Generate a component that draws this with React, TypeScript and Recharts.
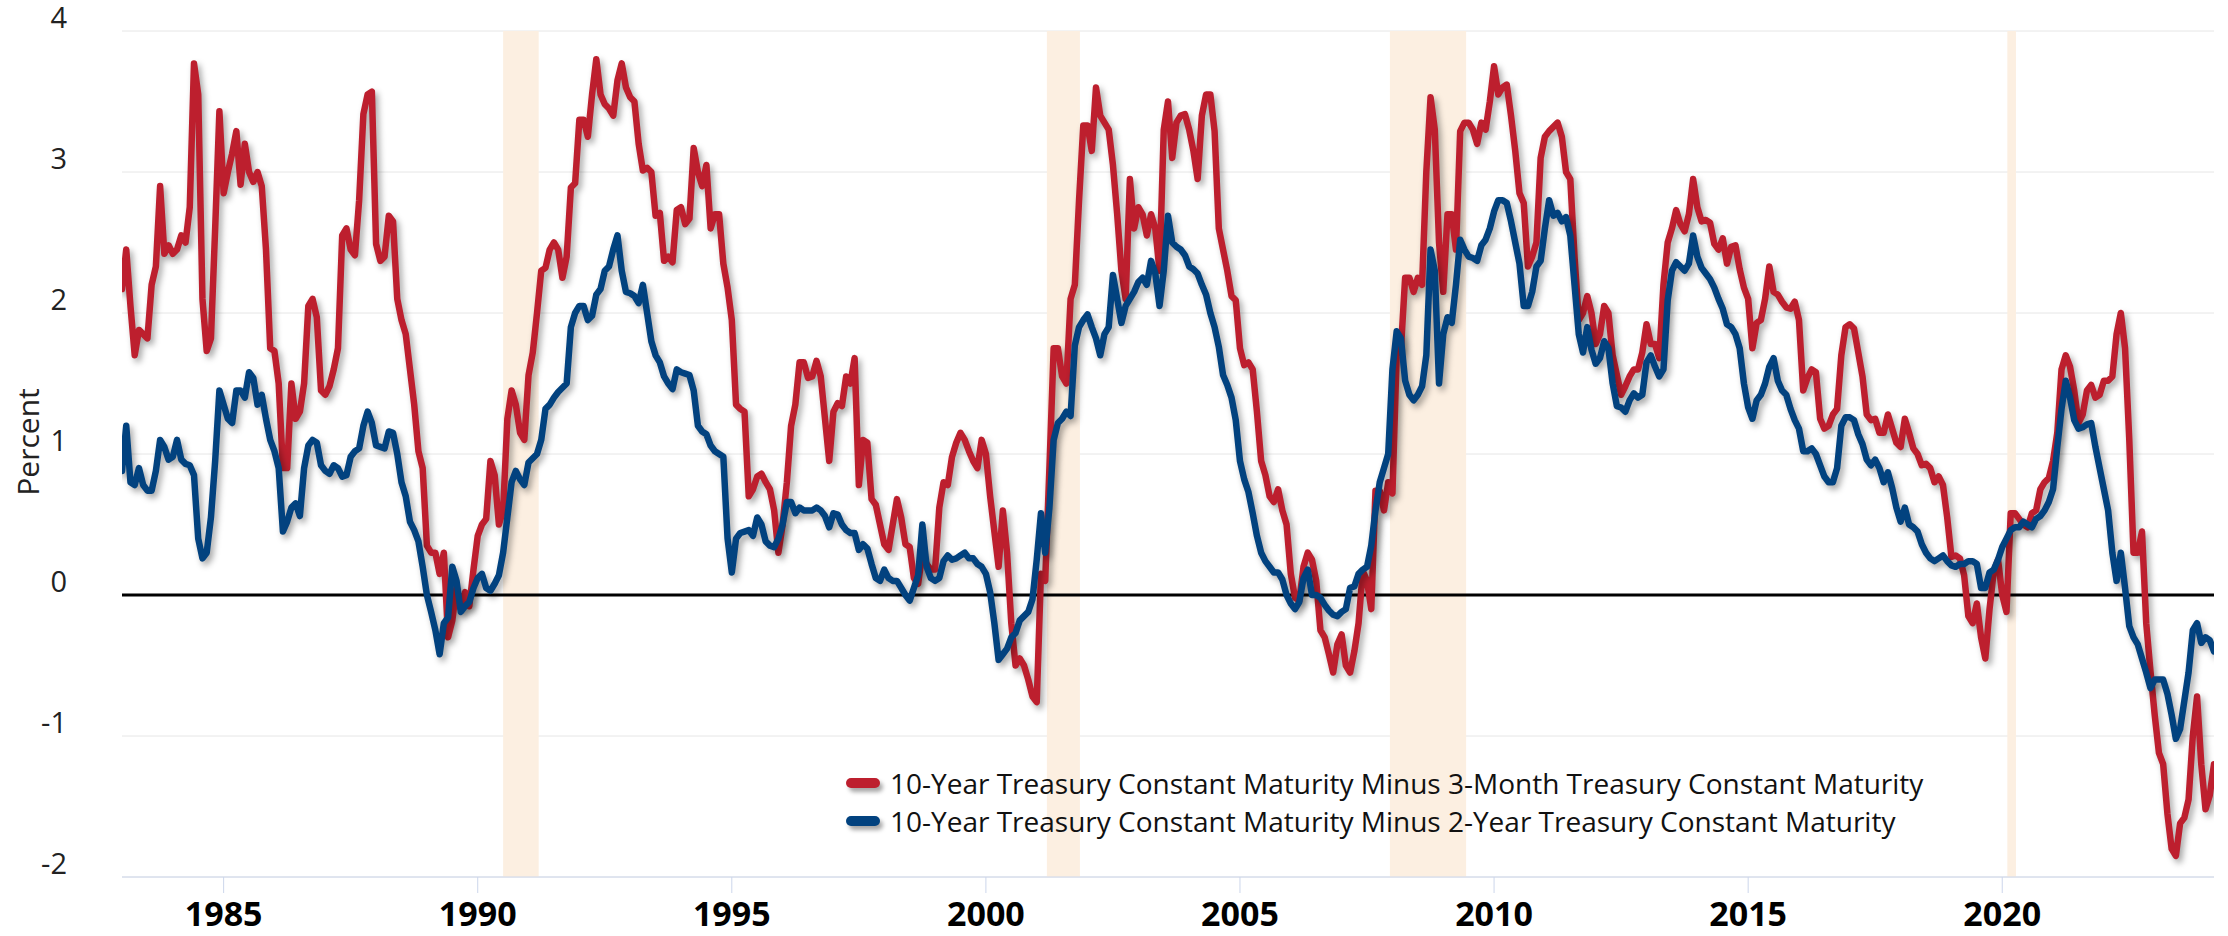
import { LineChart, Line, XAxis, YAxis, CartesianGrid, ReferenceArea, ReferenceLine, Legend } from 'recharts';

const FONT = '"Open Sans", "Noto Sans", sans-serif';

// monthly values, Jan 1983 .. Mar 2024
const START_YEAR = 1983;

const spread3m: number[] = [
  2.17, 2.45, 2.05, 1.7, 1.88, 1.85, 1.82, 2.2, 2.33, 2.9, 2.42, 2.48,
  2.42, 2.45, 2.55, 2.5, 2.75, 3.77, 3.55, 2.1, 1.73, 1.82, 2.6, 3.43,
  2.85, 3.0, 3.13, 3.29, 2.91, 3.2, 3.0, 2.93, 3.0, 2.9, 2.45, 1.75,
  1.73, 1.5, 0.9, 0.9, 1.5, 1.25, 1.3, 1.5, 2.05, 2.1, 1.97, 1.45,
  1.42, 1.48, 1.6, 1.75, 2.55, 2.6, 2.45, 2.41, 2.8, 3.41, 3.55, 3.57,
  2.49, 2.37, 2.4, 2.69, 2.65, 2.1, 1.95, 1.85, 1.6, 1.35, 1.02, 0.9,
  0.35, 0.3, 0.3, 0.15, 0.3, -0.3, -0.18, 0.06, -0.1, 0.02, -0.08, 0.18,
  0.42, 0.5, 0.54, 0.95, 0.85, 0.5, 0.6, 1.25, 1.45, 1.35, 1.15, 1.1,
  1.56, 1.72, 2.0, 2.3, 2.32, 2.45, 2.5, 2.45, 2.25, 2.4, 2.89, 2.92,
  3.37, 3.37, 3.25, 3.55, 3.8, 3.55, 3.48, 3.45, 3.4, 3.65, 3.77, 3.6,
  3.53, 3.5, 3.2, 3.01, 3.03, 3.0, 2.69, 2.71, 2.37, 2.4, 2.36, 2.73,
  2.75, 2.63, 2.67, 3.17, 3.0, 2.9, 3.05, 2.6, 2.7, 2.7, 2.35, 2.18,
  1.95, 1.35, 1.32, 1.3, 0.7, 0.75, 0.84, 0.86, 0.8, 0.75, 0.6, 0.3,
  0.5, 0.8, 1.2, 1.35, 1.65, 1.65, 1.54, 1.55, 1.66, 1.55, 1.25, 0.95,
  1.3, 1.36, 1.34, 1.55, 1.5, 1.68, 0.78, 1.1, 1.08, 0.68, 0.64, 0.5,
  0.36, 0.32, 0.5, 0.68, 0.55, 0.36, 0.34, 0.12, 0.08, 0.3, 0.22, 0.18,
  0.18, 0.62, 0.8, 0.78, 0.98, 1.08, 1.15, 1.1, 1.02, 0.95, 0.9, 1.1,
  1.0, 0.7, 0.45, 0.2, 0.6, 0.3, -0.2, -0.5, -0.45, -0.5, -0.6, -0.72,
  -0.76, 0.15, 0.1, 0.9, 1.75, 1.75, 1.55, 1.5, 2.1, 2.2, 2.8, 3.33,
  3.33, 3.15, 3.6, 3.4, 3.35, 3.3, 3.05, 2.7, 2.3, 2.1, 2.95, 2.6,
  2.75, 2.7, 2.55, 2.7, 2.6, 2.3, 3.3, 3.5, 3.1, 3.35, 3.4, 3.41,
  3.3, 3.15, 2.95, 3.4, 3.55, 3.55, 3.29, 2.6, 2.45, 2.3, 2.12, 2.09,
  1.75, 1.63, 1.65, 1.6, 1.3, 0.95, 0.85, 0.7, 0.66, 0.75, 0.6, 0.5,
  0.15, -0.02, -0.04, 0.2, 0.3, 0.25, 0.1, -0.25, -0.3, -0.42, -0.55, -0.35,
  -0.28, -0.5, -0.55, -0.4, -0.2, 0.17, 0.1, -0.1, 0.74, 0.74, 0.6, 0.8,
  0.72, 1.7, 1.74, 2.25, 2.25, 2.15, 2.25, 2.2, 3.0, 3.53, 3.3, 2.5,
  2.15, 2.7, 2.7, 2.45, 3.29, 3.35, 3.35, 3.3, 3.2, 3.35, 3.3, 3.5,
  3.75, 3.55, 3.6, 3.62, 3.4, 3.15, 2.85, 2.78, 2.33, 2.4, 2.5, 3.1,
  3.25, 3.29, 3.32, 3.35, 3.25, 3.0, 2.95, 2.4, 1.95, 2.0, 2.12, 2.0,
  1.78, 1.85, 2.05, 2.0, 1.7, 1.56, 1.42, 1.48, 1.55, 1.6, 1.6, 1.72,
  1.92, 1.78, 1.78, 1.68, 2.2, 2.5, 2.6, 2.73, 2.63, 2.58, 2.7, 2.95,
  2.75, 2.65, 2.66, 2.64, 2.49, 2.45, 2.53, 2.35, 2.47, 2.48, 2.31, 2.18,
  2.1, 1.75, 1.93, 1.95, 2.1, 2.33, 2.15, 2.13, 2.08, 2.04, 2.03, 2.08,
  1.95, 1.45, 1.54, 1.6, 1.58, 1.25, 1.18, 1.2, 1.28, 1.32, 1.7, 1.9,
  1.92, 1.89, 1.72, 1.55, 1.28, 1.24, 1.25, 1.15, 1.15, 1.28, 1.18, 1.08,
  1.05, 1.25, 1.15, 1.04, 1.0, 0.92, 0.93, 0.9, 0.8, 0.84, 0.78, 0.55,
  0.27, 0.28, 0.26, 0.14, -0.15, -0.2, -0.06, -0.3, -0.45, -0.1, 0.17, 0.25,
  0.0, -0.12, 0.58, 0.58, 0.54, 0.5, 0.48, 0.58, 0.6, 0.75, 0.8, 0.83,
  0.95, 1.15, 1.6, 1.7, 1.62, 1.45, 1.22, 1.28, 1.45, 1.49, 1.4, 1.42,
  1.52, 1.52, 1.55, 1.85, 2.0, 1.75, 1.1, 0.3, 0.3, 0.45, -0.2, -0.54,
  -0.85, -1.12, -1.2, -1.55, -1.8, -1.85, -1.62, -1.58, -1.45, -1.0, -0.72, -1.2,
  -1.52, -1.42, -1.2,
];

const spread2y: number[] = [
  0.88, 1.2, 0.8, 0.78, 0.9, 0.78, 0.74, 0.74, 0.88, 1.1, 1.05, 0.96,
  0.98, 1.1, 0.96, 0.93, 0.92, 0.85, 0.4, 0.26, 0.3, 0.55, 0.95, 1.45,
  1.35, 1.25, 1.22, 1.45, 1.45, 1.4, 1.58, 1.54, 1.35, 1.42, 1.25, 1.1,
  1.02, 0.9, 0.45, 0.52, 0.62, 0.65, 0.56, 0.9, 1.06, 1.1, 1.08, 0.92,
  0.88, 0.86, 0.92, 0.9, 0.84, 0.85, 0.98, 1.02, 1.04, 1.2, 1.3, 1.22,
  1.06, 1.05, 1.04, 1.16, 1.15, 1.0, 0.8, 0.7, 0.52, 0.46, 0.38, 0.2,
  0.0, -0.12, -0.25, -0.42, -0.2, -0.16, 0.2, 0.1, -0.12, -0.08, -0.05, 0.05,
  0.12, 0.15, 0.05, 0.03, 0.08, 0.14, 0.3, 0.55, 0.8, 0.88, 0.82, 0.78,
  0.94, 0.97, 1.0, 1.1, 1.32, 1.35, 1.4, 1.44, 1.47, 1.5, 1.9, 2.0,
  2.05, 2.05, 1.95, 1.98, 2.13, 2.17, 2.3, 2.33, 2.45, 2.55, 2.3, 2.15,
  2.14, 2.12, 2.07, 2.2, 2.0, 1.8, 1.7, 1.65, 1.55, 1.5, 1.46, 1.6,
  1.58, 1.57, 1.56, 1.45, 1.2, 1.16, 1.14, 1.06, 1.02, 1.0, 0.98, 0.4,
  0.16, 0.4, 0.44, 0.45, 0.46, 0.42, 0.55, 0.5, 0.38, 0.35, 0.34, 0.4,
  0.5, 0.66, 0.66, 0.58, 0.62, 0.6, 0.6, 0.6, 0.62, 0.6, 0.56, 0.48,
  0.58, 0.57, 0.5, 0.46, 0.44, 0.44, 0.32, 0.36, 0.33, 0.22, 0.12, 0.1,
  0.18, 0.12, 0.1, 0.1, 0.05, 0.0, -0.04, 0.05, 0.14, 0.5, 0.2, 0.12,
  0.1, 0.12, 0.24, 0.28, 0.25, 0.26, 0.28, 0.3, 0.26, 0.26, 0.22, 0.2,
  0.15, 0.02, -0.2, -0.46, -0.42, -0.38, -0.3, -0.27, -0.18, -0.15, -0.12, -0.03,
  0.25, 0.58, 0.3, 0.62, 1.1, 1.22, 1.25, 1.3, 1.27, 1.77, 1.9, 1.95,
  1.99, 1.9, 1.82, 1.7, 1.85, 1.9, 2.27, 2.1, 1.93, 2.05, 2.1, 2.15,
  2.22, 2.25, 2.2, 2.37, 2.28, 2.05, 2.3, 2.69, 2.5, 2.47, 2.45, 2.41,
  2.33, 2.31, 2.28, 2.2, 2.13, 2.0, 1.9, 1.76, 1.56, 1.49, 1.4, 1.24,
  0.95, 0.82, 0.73, 0.58, 0.42, 0.3, 0.24, 0.2, 0.16, 0.16, 0.11, 0.0,
  -0.06, -0.1, -0.05, 0.12, 0.18, 0.0, 0.0, -0.02, -0.07, -0.11, -0.14, -0.15,
  -0.12, -0.1, 0.05, 0.06, 0.15, 0.18, 0.2, 0.35, 0.6, 0.8, 0.9, 1.0,
  1.6, 1.87, 1.82, 1.52, 1.42, 1.38, 1.42, 1.48, 1.7, 2.45, 2.3, 1.5,
  1.85, 1.97, 1.93, 2.2, 2.52, 2.45, 2.4, 2.39, 2.37, 2.48, 2.52, 2.6,
  2.72, 2.8, 2.8, 2.78, 2.65, 2.5, 2.35, 2.05, 2.05, 2.15, 2.33, 2.37,
  2.6, 2.8, 2.69, 2.71, 2.65, 2.68, 2.55, 2.2, 1.85, 1.72, 1.9, 1.74,
  1.64, 1.68, 1.8, 1.75, 1.5, 1.34, 1.33, 1.3, 1.38, 1.43, 1.4, 1.42,
  1.65, 1.7, 1.62, 1.55, 1.6, 2.09, 2.3, 2.36, 2.33, 2.3, 2.35, 2.55,
  2.4, 2.32, 2.28, 2.24, 2.18, 2.1, 2.03, 1.92, 1.9, 1.85, 1.75, 1.5,
  1.33, 1.25, 1.38, 1.42, 1.5, 1.62, 1.68, 1.52, 1.45, 1.42, 1.32, 1.24,
  1.18, 1.02, 1.02, 1.04, 1.0, 0.92, 0.84, 0.8, 0.8, 0.9, 1.2, 1.26,
  1.26, 1.24, 1.14, 1.07, 0.96, 0.92, 0.96, 0.9, 0.8, 0.87, 0.76, 0.62,
  0.52, 0.62, 0.5, 0.48, 0.45, 0.36, 0.3, 0.26, 0.24, 0.26, 0.28, 0.24,
  0.21, 0.2, 0.22, 0.22, 0.24, 0.24, 0.22, 0.05, 0.05, 0.16, 0.18, 0.25,
  0.34, 0.4, 0.46, 0.48, 0.48, 0.52, 0.5, 0.48, 0.54, 0.56, 0.6, 0.66,
  0.75, 1.05, 1.32, 1.52, 1.4, 1.24, 1.18, 1.19, 1.21, 1.22, 1.05, 0.9,
  0.75, 0.6, 0.3, 0.1, 0.3, 0.05, -0.22, -0.3, -0.35, -0.45, -0.55, -0.66,
  -0.6, -0.6, -0.6, -0.7, -0.85, -1.02, -0.95, -0.75, -0.55, -0.25, -0.2, -0.34,
  -0.3, -0.32, -0.4,
];

// recession shading, decimal years
const recessions: [number, number][] = [
  [1990.5, 1991.2],
  [2001.2, 2001.85],
  [2007.95, 2009.45],
  [2020.1, 2020.27],
];

const xTicks = [1985, 1990, 1995, 2000, 2005, 2010, 2015, 2020];
const yTicks = [-2, -1, 0, 1, 2, 3, 4];

const seriesNames = [
  '10-Year Treasury Constant Maturity Minus 3-Month Treasury Constant Maturity',
  '10-Year Treasury Constant Maturity Minus 2-Year Treasury Constant Maturity',
];
const seriesColors = ['#bd1f2e', '#02427f'];

const data = spread3m.map((v, i) => ({
  t: START_YEAR + i / 12,
  s3m: v,
  s2y: spread2y[i],
}));

function LegendBox() {
  return (
    <div style={{ fontFamily: FONT, fontSize: 28, color: '#111', lineHeight: '38px', whiteSpace: 'nowrap' }}>
      {seriesNames.map((name, i) => (
        <div key={name} style={{ display: 'flex', alignItems: 'center' }}>
          <span
            style={{
              display: 'inline-block',
              width: 34,
              height: 10,
              borderRadius: 5,
              background: seriesColors[i],
              boxShadow: '3px 4px 4px rgba(0,0,0,0.35)',
              marginRight: 10,
            }}
          />
          {name}
        </div>
      ))}
    </div>
  );
}

export default function App() {
  return (
    <div style={{ width: 2228, height: 936, background: '#fff' }}>
      <style>{`
        body { margin: 0; }
        .recharts-line-curve { filter: drop-shadow(3px 4px 3px rgba(0,0,0,0.35)); }
      `}</style>
      <LineChart width={2228} height={936} data={data} margin={{ top: 31, right: 14, bottom: 0, left: 0 }}>
        <CartesianGrid vertical={false} stroke="#e6e6e6" />
        {recessions.map(([a, b]) => (
          <ReferenceArea key={a} x1={a} x2={b} y1={-2} y2={4} fill="#fcefe1" fillOpacity={1} stroke="none" ifOverflow="hidden" />
        ))}
        <ReferenceLine y={0} stroke="#000" strokeWidth={3} />
        <XAxis
          dataKey="t"
          type="number"
          domain={[START_YEAR, 2024.167]}
          ticks={xTicks}
          allowDataOverflow
          height={59}
          stroke="#ccd6eb"
          tickSize={16}
          tick={(p: any) => (
            <text x={p.x} y={926} textAnchor="middle" fontFamily={FONT} fontWeight={700} fontSize={34} fill="#000">
              {p.payload.value}
            </text>
          )}
        />
        <YAxis
          domain={[-2, 4]}
          ticks={yTicks}
          width={122}
          axisLine={false}
          tickLine={false}
          tick={(p: any) => (
            <text x={67} y={p.y - 15} textAnchor="end" dominantBaseline="central" fontFamily={FONT} fontSize={29} fill="#222">
              {p.payload.value}
            </text>
          )}
          label={{
            content: () => (
              <text x={27} y={442} transform="rotate(-90, 27, 442)" textAnchor="middle" dominantBaseline="central" fontFamily={FONT} fontSize={30} fill="#222">
                Percent
              </text>
            ),
          }}
        />
        <Legend
          layout="vertical"
          align="center"
          verticalAlign="middle"
          content={() => <LegendBox />}
          wrapperStyle={{ left: 846, top: 764, width: 'auto' }}
        />
        <Line
          dataKey="s3m"
          name={seriesNames[0]}
          stroke={seriesColors[0]}
          strokeWidth={6.5}
          strokeLinejoin="round"
          strokeLinecap="round"
          dot={false}
          type="linear"
          isAnimationActive={false}
        />
        <Line
          dataKey="s2y"
          name={seriesNames[1]}
          stroke={seriesColors[1]}
          strokeWidth={6.5}
          strokeLinejoin="round"
          strokeLinecap="round"
          dot={false}
          type="linear"
          isAnimationActive={false}
        />
      </LineChart>
    </div>
  );
}
